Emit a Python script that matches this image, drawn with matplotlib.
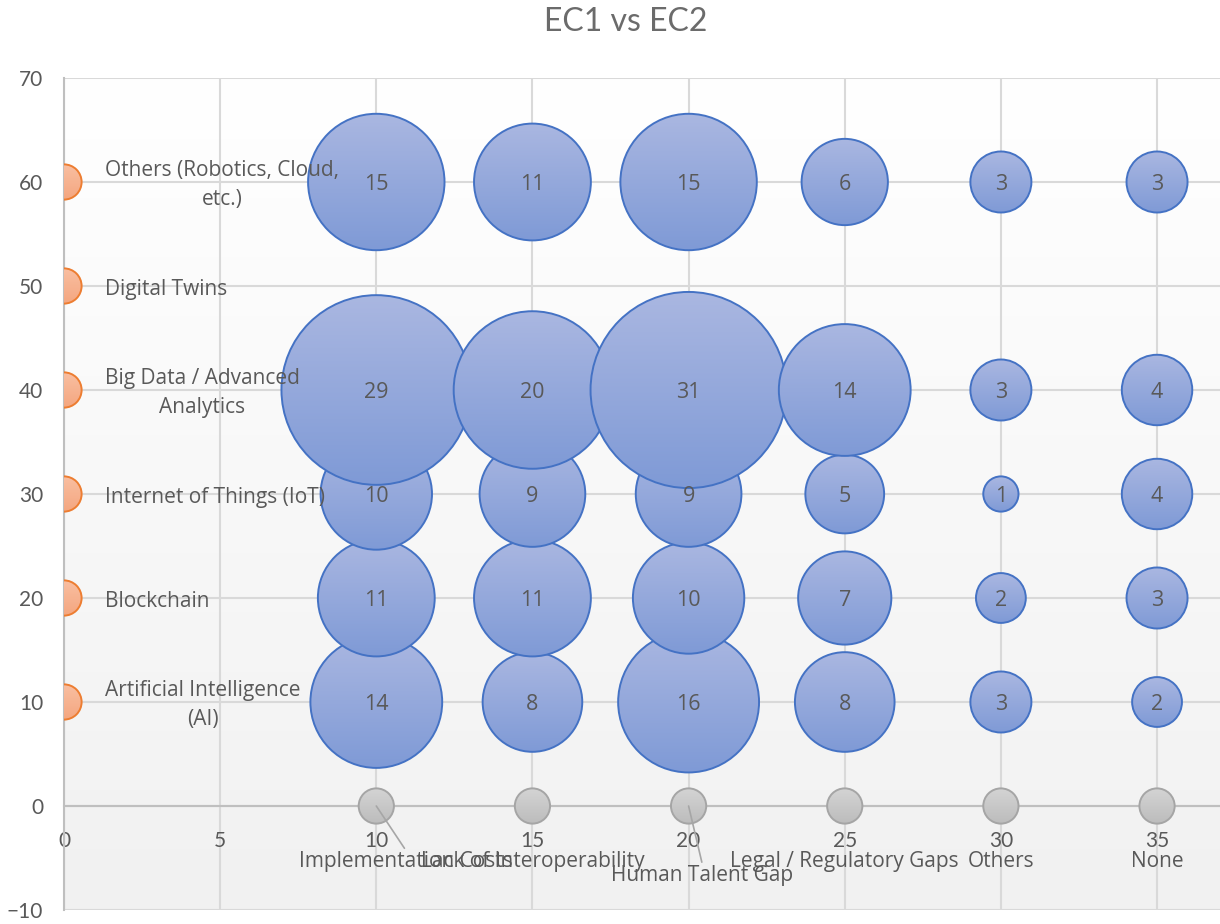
import textwrap
import numpy as np
import matplotlib
matplotlib.use("Agg")
import matplotlib.pyplot as plt
from matplotlib.patches import Circle
from matplotlib.transforms import Affine2D, ScaledTranslation
from matplotlib.colors import to_rgb

# ---- data -------------------------------------------------------------
# EC1: technologies (vertical axis), EC2: barriers (horizontal axis)
ec1_labels = ["Artificial Intelligence (AI)", "Blockchain", "Internet of Things (IoT)",
              "Big Data / Advanced Analytics", "Digital Twins",
              "Others (Robotics, Cloud, etc.)"]
ec1_y = [10, 20, 30, 40, 50, 60]

ec2_labels = ["Implementation Costs", "Lack of Interoperability", "Human Talent Gap",
              "Legal / Regulatory Gaps", "Others", "None"]
ec2_x = [10, 15, 20, 25, 30, 35]

counts_ai = [14, 8, 16, 8, 3, 2]
counts_blockchain = [11, 11, 10, 7, 2, 3]
counts_iot = [10, 9, 9, 5, 1, 4]
counts_bigdata = [29, 20, 31, 14, 3, 4]
counts_twins = [0, 0, 0, 0, 0, 0]
counts_others = [15, 11, 15, 6, 3, 3]

axis_marker_size = 1  # size of the category marker bubbles on both axes

x_ticks = [0, 5, 10, 15, 20, 25, 30, 35]
y_ticks = [-10, 0, 10, 20, 30, 40, 50, 60, 70]

# ---- style ------------------------------------------------------------
TEXT = "#595959"
GRID = "#D9D9D9"
AXIS = "#BFBFBF"
BLUE = ("#AAB7E1", "#7F9AD6", "#4472C4")     # top, bottom, edge
ORANGE = ("#F9BFA2", "#F4A67F", "#ED7D31")
GRAY = ("#D4D4D4", "#BCBCBC", "#A5A5A5")
R_MAX_PT = 70.6          # radius (points) of the largest bubble
LABEL_FONT = ["Open Sans", "DejaVu Sans"]
TICK_FONT = ["Lato", "DejaVu Sans"]

# offsets (points) of the barrier labels below their markers
ec2_label_offsets = {0: (21.6, -40), 2: (10, -50)}
ec2_default_offset = (0, -40)

fig = plt.figure(figsize=(12.2, 9.24), dpi=100)
W, H = 1220, 924
ax = fig.add_axes([64 / W, 1 - 910 / H, (1219.5 - 64) / W, (910 - 78) / H])
ax.set_facecolor("white")

# plot-area background: soft white-to-grey vertical gradient
bg = np.linspace(0, 1, 256)[:, None, None]
top_c, bot_c = np.array(to_rgb("#FFFFFF")), np.array(to_rgb("#F1F1F1"))
bg_img = bot_c + (top_c - bot_c) * bg
ax.imshow(bg_img, extent=(0, 1, 0, 1), transform=ax.transAxes, origin="lower",
          aspect="auto", zorder=0.1, interpolation="bilinear")

vmax = max(max(counts_ai), max(counts_blockchain), max(counts_iot),
           max(counts_bigdata), max(counts_twins), max(counts_others))

zcount = [3.0]


def bubble(x, y, value, palette):
    """Draw one area-scaled bubble with a vertical gradient fill."""
    r_pt = R_MAX_PT * np.sqrt(value / vmax)
    tr = (Affine2D().scale(r_pt / 72.0) + fig.dpi_scale_trans
          + ScaledTranslation(x, y, ax.transData))
    t, b, e = (np.array(to_rgb(c)) for c in palette)
    g = np.linspace(0, 1, 256)[:, None, None]
    img = b + (t - b) * g
    z = zcount[0]
    im = ax.imshow(img, extent=(-1, 1, -1, 1), origin="lower", aspect="auto",
                   interpolation="bilinear", zorder=z)
    im.set_transform(tr)
    im.set_clip_box(ax.bbox)
    im.set_clip_path(Circle((0, 0), 1, transform=tr))
    ax.add_patch(Circle((0, 0), 1, transform=tr, facecolor="none",
                        edgecolor=e, lw=1.4, zorder=z + 0.5))
    zcount[0] += 1


# category markers on the vertical axis (technologies)
for y in ec1_y:
    bubble(0, y, axis_marker_size, ORANGE)

# category markers on the horizontal axis (barriers)
for x in ec2_x:
    bubble(x, 0, axis_marker_size, GRAY)

# value bubbles, row by row
rows = [counts_ai, counts_blockchain, counts_iot, counts_bigdata,
        counts_twins, counts_others]
for y, row in zip(ec1_y, rows):
    for x, v in zip(ec2_x, row):
        if v > 0:
            bubble(x, y, v, BLUE)
            ax.annotate(str(v), xy=(x, y), xytext=(0, -1.5),
                        textcoords="offset points", ha="center", va="center",
                        fontsize=15.5, color=TEXT, family=LABEL_FONT, zorder=200)

# technology labels beside the orange markers
for y, lab in zip(ec1_y, ec1_labels):
    ax.annotate(textwrap.fill(lab, 24), xy=(0, y), xytext=(29.5, -2.2),
                textcoords="offset points", ha="left", va="center",
                multialignment="center", fontsize=15, color=TEXT,
                family=LABEL_FONT, zorder=200, linespacing=1.55)

# barrier labels beneath the grey markers
for i, (x, lab) in enumerate(zip(ec2_x, ec2_labels)):
    off = ec2_label_offsets.get(i, ec2_default_offset)
    kw = {}
    if i in ec2_label_offsets:
        kw["arrowprops"] = dict(arrowstyle="-", color="#A6A6A6", lw=1.2,
                                shrinkA=0, shrinkB=0, relpos=(0.5, 1.0))
    ax.annotate(lab, xy=(x, 0), xytext=off, textcoords="offset points",
                ha="center", va="center", fontsize=15, color=TEXT,
                family=LABEL_FONT, zorder=200, annotation_clip=False, **kw)

# axes, ticks and grid
ax.set_xlim(0, 37)
ax.set_ylim(-10, 70)
ax.set_xticks(x_ticks)
ax.set_yticks(y_ticks)
ax.grid(True, color=GRID, lw=1.5)
ax.set_axisbelow(True)
for s in ("top", "right"):
    ax.spines[s].set_visible(False)
ax.spines["bottom"].set_position(("data", 0))
for s in ("left", "bottom"):
    ax.spines[s].set_color(AXIS)
    ax.spines[s].set_linewidth(1.5)
ax.tick_params(axis="x", length=0, pad=18, labelsize=15, labelcolor=TEXT)
ax.tick_params(axis="y", length=0, pad=15, labelsize=15, labelcolor=TEXT)
for lbl in ax.get_xticklabels() + ax.get_yticklabels():
    lbl.set_family(TICK_FONT)

fig.text(626 / W, 1 - 22 / H, "EC1 vs EC2", ha="center", va="center",
         fontsize=23, color="#6B6B6B", family=TICK_FONT)

fig.savefig("out.png", dpi=100)
